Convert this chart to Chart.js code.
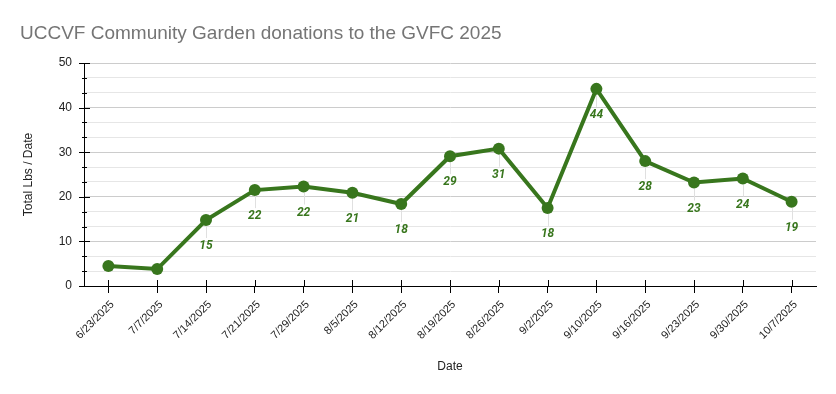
<!DOCTYPE html>
<html>
<head>
<meta charset="utf-8">
<script src="https://cdn.jsdelivr.net/npm/chart.js@4"></script>
<style>
  html, body { margin: 0; padding: 0; background: #fff; }
  #wrap { width: 836px; height: 394px; }
</style>
</head>
<body>
<div id="wrap"><canvas id="chart" width="836" height="394"></canvas></div>
<script>
const dates = ['6/23/2025', '7/7/2025', '7/14/2025', '7/21/2025', '7/29/2025', '8/5/2025', '8/12/2025',
  '8/19/2025', '8/26/2025', '9/2/2025', '9/10/2025', '9/16/2025', '9/23/2025', '9/30/2025', '10/7/2025'];
const pounds = [4.5, 3.8, 14.8, 21.5, 22.3, 20.9, 18.4, 29.1, 30.8, 17.5, 44.2, 28.0, 23.2, 24.1, 18.9];
const pointLabels = [null, null, '15', '22', '22', '21', '18', '29', '31', '18', '44', '28', '23', '24', '19'];
const yMax = 50;
const yStep = 10 / 3;

const green = '#38761d';

const isMajor = v => Math.abs(v - Math.round(v / 10) * 10) < 0.01;

// value labels under each point, with a faint leader line
const valueLabels = {
  id: 'valueLabels',
  beforeDatasetsDraw(chart) {
    const ctx = chart.ctx;
    const meta = chart.getDatasetMeta(0);
    ctx.save();
    ctx.strokeStyle = '#e0e0e0';
    ctx.lineWidth = 1;
    meta.data.forEach((pt, i) => {
      if (!pointLabels[i]) return;
      ctx.beginPath();
      ctx.moveTo(Math.round(pt.x) + 0.5, pt.y + 6);
      ctx.lineTo(Math.round(pt.x) + 0.5, pt.y + 18);
      ctx.stroke();
    });
    ctx.restore();
  },
  afterDatasetsDraw(chart) {
    const ctx = chart.ctx;
    const meta = chart.getDatasetMeta(0);
    ctx.save();
    ctx.font = 'italic bold 12px Roboto';
    ctx.fillStyle = green;
    ctx.textAlign = 'center';
    ctx.textBaseline = 'middle';
    meta.data.forEach((pt, i) => {
      if (!pointLabels[i]) return;
      ctx.fillText(pointLabels[i], pt.x, pt.y + 26);
    });
    ctx.restore();
  }
};

// tick marks crossing both axes, long ones at the labelled values
const axisTicks = {
  id: 'axisTicks',
  afterDraw(chart) {
    const ctx = chart.ctx;
    const y = chart.scales.y;
    const x = chart.scales.x;
    ctx.save();
    ctx.strokeStyle = '#000';
    ctx.lineWidth = 1;
    y.ticks.forEach(t => {
      const major = isMajor(t.value);
      const py = Math.round(y.getPixelForValue(t.value)) + 0.5;
      ctx.beginPath();
      ctx.moveTo(y.right - (major ? 5 : 2), py);
      ctx.lineTo(y.right + (major ? 6 : 3), py);
      ctx.stroke();
    });
    x.ticks.forEach((t, i) => {
      const px = Math.round(x.getPixelForTick(i)) + 0.5;
      ctx.beginPath();
      ctx.moveTo(px, x.top - 6);
      ctx.lineTo(px, x.top);
      ctx.stroke();
    });
    ctx.restore();
  }
};

new Chart(document.getElementById('chart'), {
  type: 'line',
  data: {
    labels: dates,
    datasets: [{
      data: pounds,
      borderColor: green,
      backgroundColor: green,
      borderWidth: 4,
      pointRadius: 6,
      pointHoverRadius: 6,
      pointBackgroundColor: green,
      pointBorderWidth: 0,
      tension: 0
    }]
  },
  plugins: [valueLabels, axisTicks],
  options: {
    responsive: false,
    animation: false,
    layout: { padding: { left: 20, right: 20, bottom: 10, top: 0 } },
    plugins: {
      legend: { display: false },
      tooltip: { enabled: false },
      title: {
        display: true,
        text: 'UCCVF Community Garden donations to the GVFC 2025',
        align: 'start',
        color: '#757575',
        font: { family: 'Liberation Sans', size: 19, weight: 'normal' },
        padding: { top: 22, bottom: 18.2 }
      }
    },
    scales: {
      x: {
        offset: true,
        border: { color: '#000', width: 1 },
        grid: { drawOnChartArea: false, tickLength: 7, color: '#000' },
        ticks: {
          color: '#222',
          font: { family: 'Liberation Sans', size: 11 },
          minRotation: 45,
          maxRotation: 45,
          autoSkip: false,
          padding: 5,
          labelOffset: 4
        },
        title: {
          display: true,
          text: 'Date',
          color: '#222',
          font: { family: 'Liberation Sans', size: 12 },
          padding: { top: 4, bottom: 10 }
        },
        afterFit(scale) { scale.height = 98; }
      },
      y: {
        min: 0,
        max: yMax,
        border: { color: '#000', width: 1 },
        grid: {
          drawTicks: false,
          color: ctx => (ctx.tick && isMajor(ctx.tick.value)) ? '#cccccc' : '#e6e6e6'
        },
        ticks: {
          stepSize: yStep,
          autoSkip: false,
          color: '#222',
          font: { family: 'Liberation Sans', size: 12 },
          padding: 12,
          callback: v => isMajor(v) ? Math.round(v) : ''
        },
        title: {
          display: true,
          text: 'Total Lbs / Date',
          color: '#222',
          font: { family: 'Liberation Sans', size: 12 },
          padding: { top: 1, bottom: 4 }
        },
        afterFit(scale) { scale.width = 64; }
      }
    }
  }
});
</script>
</body>
</html>
